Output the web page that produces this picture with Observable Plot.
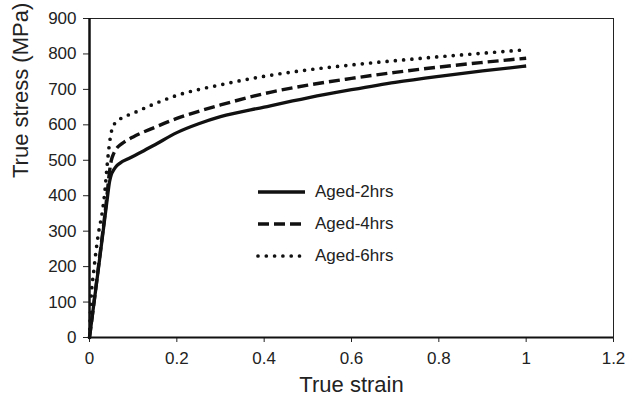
<!DOCTYPE html>
<html>
<head>
<meta charset="utf-8">
<script src="https://cdn.jsdelivr.net/npm/d3@7"></script>
<script src="https://cdn.jsdelivr.net/npm/@observablehq/plot@0.6"></script>
<style>
  body { margin: 0; background: #fff; }
  #wrap { position: relative; width: 627px; height: 396px; font-family: "Liberation Sans", Arial, sans-serif; }
  #legend { position: absolute; left: 256px; top: 176px; font-size: 17px; color: #222; }
  .row { display: flex; align-items: center; height: 32px; }
  .row svg { display: block; margin-right: 9px; }
</style>
</head>
<body>
<div id="wrap"><div id="legend"></div></div>
<script>
// Aged-2hrs (solid)
const strain2 = [0, 0.02, 0.04, 0.046, 0.05, 0.055, 0.06, 0.07, 0.09, 0.12, 0.15, 0.2, 0.25, 0.3, 0.4, 0.5, 0.6, 0.7, 0.8, 0.9, 1.0];
const stress2 = [0, 190, 385, 440, 460, 472, 481, 492, 505, 524, 544, 578, 603, 623, 650, 676, 699, 720, 737, 752, 766];
// Aged-4hrs (dashed)
const strain4 = [0, 0.02, 0.04, 0.045, 0.05, 0.055, 0.06, 0.07, 0.08, 0.1, 0.15, 0.2, 0.25, 0.3, 0.4, 0.5, 0.6, 0.7, 0.8, 0.9, 1.0];
const stress4 = [0, 195, 400, 460, 500, 518, 530, 543, 552, 566, 593, 618, 638, 656, 688, 712, 731, 748, 763, 776, 788];
// Aged-6hrs (dotted)
const strain6 = [0, 0.003, 0.01, 0.02, 0.03, 0.035, 0.04, 0.046, 0.052, 0.06, 0.075, 0.1, 0.15, 0.2, 0.3, 0.4, 0.5, 0.6, 0.7, 0.8, 0.9, 1.0];
const stress6 = [0, 95, 190, 290, 360, 410, 480, 550, 590, 607, 620, 633, 660, 683, 713, 737, 755, 769, 781, 792, 802, 812];

const seriesNames = ["Aged-2hrs", "Aged-4hrs", "Aged-6hrs"];
const xTicks = [0, 0.2, 0.4, 0.6, 0.8, 1.0, 1.2];
const xTickLabels = ["0", "0.2", "0.4", "0.6", "0.8", "1", "1.2"];
const yTicks = [0, 100, 200, 300, 400, 500, 600, 700, 800, 900];
const xLabel = "True strain";
const yLabel = "True stress (MPa)";

const styles = [
  {strokeWidth: 3.3, strokeDasharray: null, strokeLinecap: "butt"},
  {strokeWidth: 3.4, strokeDasharray: "11,5", strokeLinecap: "butt"},
  {strokeWidth: 3.7, strokeDasharray: "0,8.3", strokeLinecap: "round"}
];

const toRows = (xs, ys) => xs.map((x, i) => ({x, y: ys[i]}));
const sets = [toRows(strain2, stress2), toRows(strain4, stress4), toRows(strain6, stress6)];
const ink = "#111";

const chart = Plot.plot({
  width: 627,
  height: 396,
  marginLeft: 89,
  marginRight: 14,
  marginTop: 18,
  marginBottom: 59,
  style: {fontFamily: "'Liberation Sans', Arial, sans-serif", color: "#222", background: "transparent"},
  x: {domain: [0, 1.2]},
  y: {domain: [0, 900]},
  marks: [
    Plot.frame({stroke: "#222", strokeWidth: 1}),
    Plot.axisX({ticks: xTicks, tickFormat: (d, i) => xTickLabels[i], tickSize: 5, tickPadding: 9, fontSize: 17, label: null, stroke: "#222"}),
    Plot.axisY({ticks: yTicks, tickSize: 6, tickPadding: 7, fontSize: 17, label: null, stroke: "#222"}),
    Plot.ruleX([0], {stroke: ink, strokeWidth: 2.5}),
    Plot.ruleY([0], {stroke: ink, strokeWidth: 2}),
    ...sets.map((data, k) => Plot.line(data, {
      x: "x", y: "y", stroke: ink, curve: "monotone-x",
      strokeWidth: styles[k].strokeWidth,
      strokeDasharray: styles[k].strokeDasharray,
      strokeLinecap: styles[k].strokeLinecap,
      strokeLinejoin: "round"
    })),
    Plot.text([xLabel], {frameAnchor: "bottom", dy: 54, lineAnchor: "bottom", fontSize: 22, fill: "#222"}),
    Plot.text([yLabel], {frameAnchor: "left", dx: -69, rotate: -90, fontSize: 22, fill: "#222"})
  ]
});
const wrap = document.getElementById("wrap");
wrap.insertBefore(chart, wrap.firstChild);

const legend = d3.select("#legend");
seriesNames.forEach((name, k) => {
  const row = legend.append("div").attr("class", "row");
  const s = row.append("svg").attr("width", 50).attr("height", 10);
  s.append("line").attr("x1", 2).attr("x2", 49).attr("y1", 5).attr("y2", 5)
    .attr("stroke", ink).attr("stroke-width", styles[k].strokeWidth)
    .attr("stroke-dasharray", styles[k].strokeDasharray)
    .attr("stroke-linecap", styles[k].strokeLinecap);
  row.append("span").text(name);
});
</script>
</body>
</html>
